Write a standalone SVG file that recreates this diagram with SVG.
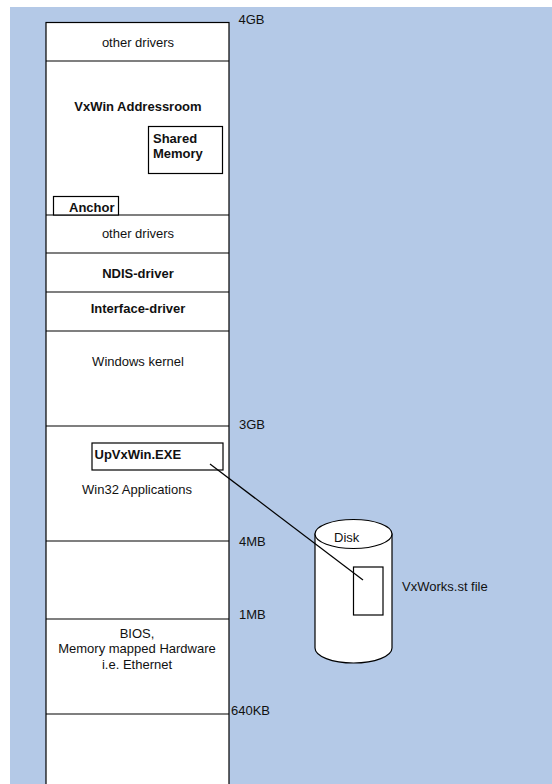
<svg xmlns="http://www.w3.org/2000/svg" width="552" height="784" viewBox="0 0 552 784">
<style>
text{font-family:"Liberation Sans",Arial,sans-serif;font-size:13px;fill:#111}
.b{font-weight:bold}
.c{text-anchor:middle}
.box{fill:#fff;stroke:#000;stroke-width:1.2}
.ln{stroke:#000;stroke-width:1.2;fill:none}
</style>
<rect x="0" y="0" width="552" height="784" fill="#fff"/>
<rect x="10" y="7" width="542" height="777" fill="#b4c9e7"/>
<g id="memory-column">
<rect class="box" x="46" y="22.5" width="183" height="770"/>
<line class="ln" x1="46" y1="61" x2="229" y2="61"/>
<line class="ln" x1="46" y1="215" x2="229" y2="215"/>
<line class="ln" x1="46" y1="253" x2="229" y2="253"/>
<line class="ln" x1="46" y1="292" x2="229" y2="292"/>
<line class="ln" x1="46" y1="331" x2="229" y2="331"/>
<line class="ln" x1="46" y1="426" x2="229" y2="426"/>
<line class="ln" x1="46" y1="541" x2="229" y2="541"/>
<line class="ln" x1="46" y1="619" x2="229" y2="619"/>
<line class="ln" x1="46" y1="714" x2="229" y2="714"/>
</g>
<g id="other-drivers-top"><text class="c" x="138" y="47">other drivers</text></g>
<g id="vxwin"><text class="c b" x="138" y="111">VxWin Addressroom</text></g>
<g id="shared-memory">
<rect class="box" x="148.5" y="126.5" width="74" height="47"/>
<text class="b" x="153" y="143">Shared</text>
<text class="b" x="153" y="158">Memory</text>
</g>
<g id="anchor">
<rect class="box" x="53.5" y="196.5" width="65" height="18.5"/>
<text class="b" x="69" y="212">Anchor</text>
</g>
<g id="other-drivers"><text class="c" x="138" y="238">other drivers</text></g>
<g id="ndis"><text class="c b" x="138" y="278">NDIS-driver</text></g>
<g id="interface"><text class="c b" x="138" y="313">Interface-driver</text></g>
<g id="kernel"><text class="c" x="138" y="366">Windows kernel</text></g>
<g id="win32"><text class="c" x="137" y="494">Win32 Applications</text></g>
<g id="upvxwin">
<rect class="box" x="92" y="443" width="131" height="27"/>
<text class="b" x="94.5" y="459">UpVxWin.EXE</text>
</g>
<g id="bios">
<text class="c" x="137" y="638">BIOS,</text>
<text class="c" x="137" y="653">Memory mapped Hardware</text>
<text class="c" x="137" y="669">i.e. Ethernet</text>
</g>
<g id="labels">
<text x="238.5" y="23.5">4GB</text>
<text x="239" y="429">3GB</text>
<text x="239" y="546">4MB</text>
<text x="239" y="619">1MB</text>
<text x="231" y="715">640KB</text>
</g>
<g id="disk">
<path class="box" d="M315,534 L315,648 A38.5,15 0 0 0 392,648 L392,534 Z"/>
<ellipse class="box" cx="353.5" cy="534" rx="38.5" ry="14.5"/>
<text x="334" y="542">Disk</text>
<rect class="box" x="353.5" y="567" width="29.5" height="48"/>
</g>
<g id="vxworks-label"><text x="402" y="591">VxWorks.st file</text></g>
<g id="connectors">
<line class="ln" x1="210" y1="464" x2="363" y2="580"/>
</g>
</svg>
